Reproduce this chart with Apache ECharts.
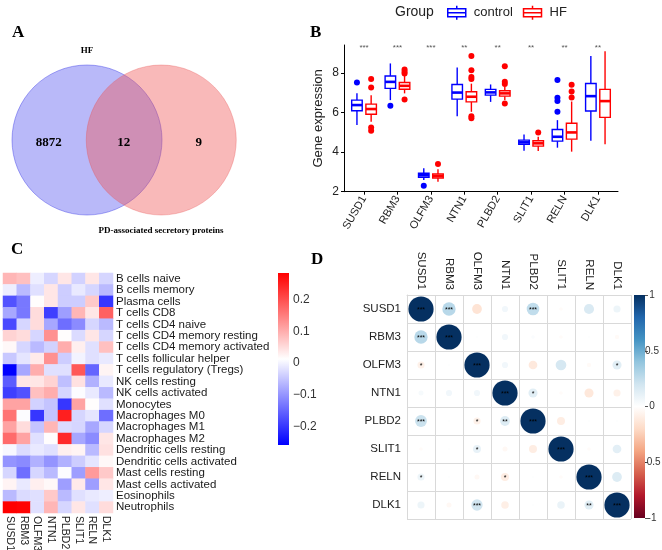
<!DOCTYPE html>
<html>
<head>
<meta charset="utf-8">
<script src="https://cdn.jsdelivr.net/npm/echarts@6/dist/echarts.min.js"></script>
<style>html,body{margin:0;padding:0;background:#fff}#main{width:662px;height:550px}</style>
</head>
<body>
<div id="main"></div>
<script>
// ---- panel A: venn ----
var vennNames = ['HF', 'PD-associated secretory proteins'];
var vennCounts = [8872, 12, 9];          // HF only, both, PD only

// ---- panel B: boxplots ----
var genes = ['SUSD1', 'RBM3', 'OLFM3', 'NTN1', 'PLBD2', 'SLIT1', 'RELN', 'DLK1'];
var sigLabels = ['***', '***', '***', '**', '**', '**', '**', '**'];
// [lower whisker, q1, median, q3, upper whisker]
var controlBox = [
    [5.36, 6.08, 6.37, 6.62, 6.97],
    [6.62, 7.21, 7.54, 7.84, 8.47],
    [2.59, 2.73, 2.83, 2.93, 3.18],
    [5.81, 6.67, 7.00, 7.41, 8.27],
    [6.53, 6.87, 7.01, 7.16, 7.41],
    [4.07, 4.39, 4.49, 4.60, 4.89],
    [4.22, 4.55, 4.77, 5.14, 5.61],
    [4.57, 6.07, 6.82, 7.46, 8.84]
];
var hfBox = [
    [5.53, 5.91, 6.17, 6.42, 6.87],
    [6.96, 7.17, 7.34, 7.51, 7.88],
    [2.50, 2.69, 2.79, 2.89, 3.13],
    [6.03, 6.53, 6.79, 7.04, 7.45],
    [6.62, 6.82, 6.96, 7.09, 7.29],
    [4.05, 4.30, 4.44, 4.57, 4.77],
    [4.02, 4.65, 4.99, 5.45, 6.55],
    [4.39, 5.75, 6.57, 7.16, 9.09]
];
var controlOut = [[0, 7.51], [1, 6.33], [2, 2.30], [6, 7.63], [6, 6.74], [6, 6.57], [6, 6.03]];
var hfOut = [[0, 7.68], [0, 7.26], [0, 5.24], [0, 5.07], [1, 8.17], [1, 8.05], [1, 7.96], [1, 6.65],
    [2, 3.40], [3, 8.85], [3, 8.13], [3, 7.78], [3, 7.68], [3, 5.81], [3, 5.70],
    [4, 8.33], [4, 7.54], [4, 7.43], [4, 6.45], [5, 4.99], [6, 7.40], [6, 7.05], [6, 6.75]];
var expTicks = [2, 4, 6, 8];
var geneTicks = [0, 1, 2, 3, 4, 5, 6, 7];

// ---- panel C: immune cell correlation heatmap ----
var cellTypes = ['B cells naive', 'B cells memory', 'Plasma cells', 'T cells CD8', 'T cells CD4 naive',
    'T cells CD4 memory resting', 'T cells CD4 memory activated', 'T cells follicular helper',
    'T cells regulatory (Tregs)', 'NK cells resting', 'NK cells activated', 'Monocytes',
    'Macrophages M0', 'Macrophages M1', 'Macrophages M2', 'Dendritic cells resting',
    'Dendritic cells activated', 'Mast cells resting', 'Mast cells activated', 'Eosinophils', 'Neutrophils'];
var immuneCorr = [
    [0.09, 0.08, -0.005, -0.03, 0.04, -0.035, 0.04, -0.03],
    [-0.005, -0.06, -0.02, 0.04, -0.04, -0.01, -0.03, -0.06],
    [-0.17, -0.13, 0.015, 0.04, -0.04, -0.04, 0.07, -0.20],
    [-0.08, -0.13, 0.05, -0.19, -0.09, 0.09, 0.04, 0.18],
    [-0.18, -0.03, 0.05, -0.08, -0.14, -0.11, -0.03, -0.06],
    [0.06, 0.05, -0.03, 0.13, 0.015, -0.025, 0.04, -0.03],
    [0.02, -0.03, -0.06, -0.035, 0.10, 0.03, -0.02, 0.08],
    [-0.045, -0.015, 0.035, 0.13, -0.04, 0.0, -0.02, -0.01],
    [-0.257, -0.08, 0.10, -0.02, -0.02, 0.19, -0.15, 0.025],
    [-0.16, 0.04, 0.04, 0.06, -0.055, 0.045, -0.07, -0.01],
    [-0.19, -0.17, 0.08, 0.10, -0.03, 0.01, -0.01, -0.06],
    [0.11, 0.11, -0.035, -0.05, -0.20, 0.11, 0.015, -0.02],
    [0.16, 0.01, -0.20, -0.05, 0.25, -0.03, -0.015, -0.14],
    [0.11, 0.05, -0.05, 0.09, -0.025, -0.03, -0.08, -0.03],
    [0.17, 0.11, -0.02, 0.015, 0.24, -0.08, -0.11, 0.04],
    [0.005, -0.025, -0.01, -0.02, 0.03, 0.025, -0.06, 0.045],
    [-0.10, -0.11, -0.07, -0.10, -0.07, -0.04, -0.015, 0.02],
    [-0.03, -0.14, -0.03, -0.06, 0.01, -0.09, 0.12, 0.07],
    [0.025, -0.01, 0.03, 0.02, -0.09, 0.035, -0.09, 0.04],
    [-0.06, -0.025, -0.02, 0.07, -0.06, -0.02, -0.01, -0.005],
    [0.283, 0.28, -0.02, 0.09, -0.03, 0.04, -0.02, 0.05]
];
var immuneMin = -0.257, immuneMax = 0.283;
var immuneTicks = [-0.2, -0.1, 0, 0.1, 0.2];

// ---- panel D: gene correlation matrix ----
var geneCorr = [
    [1, 0.28, -0.15, 0.06, 0.25, -0.02, 0.16, 0.08],
    [0.28, 1, 0.01, 0.06, 0.02, -0.02, 0.01, -0.03],
    [-0.08, 0.01, 1, 0.06, -0.12, 0.18, -0.03, 0.13],
    [0.04, 0.06, 0.06, 1, 0.13, -0.02, -0.13, -0.08],
    [0.22, 0.01, -0.08, 0.15, 1, -0.10, 0.01, 0.01],
    [-0.02, 0.01, 0.10, -0.04, -0.10, 1, -0.02, 0.12],
    [0.08, 0.01, -0.04, -0.10, 0.01, -0.02, 1, 0.15],
    [0.08, -0.04, 0.20, -0.09, 0.01, 0.09, 0.13, 1]
];
var geneStars = [
    ['***', '***', '', '', '***', '', '', ''],
    ['***', '***', '', '', '', '', '', ''],
    ['*', '', '***', '', '', '', '', '*'],
    ['', '', '', '***', '*', '', '', ''],
    ['***', '', '*', '**', '***', '', '', ''],
    ['', '', '*', '', '', '***', '', ''],
    ['*', '', '', '*', '', '', '***', ''],
    ['', '', '***', '', '', '', '**', '***']
];
var rdbu = ['#67001F', '#B2182B', '#D6604D', '#F4A582', '#FDDBC7', '#FFFFFF',
    '#D1E5F0', '#92C5DE', '#4393C3', '#2166AC', '#053061'];

var myChart = echarts.init(document.getElementById('main'));

var heatData = [];
immuneCorr.forEach(function (row, r) {
    row.forEach(function (v, c) { heatData.push([c, r, v]); });
});
var corrData = [], corrStars = [];
geneCorr.forEach(function (row, r) {
    row.forEach(function (v, c) { corrData.push([c, r, v]); corrStars.push(geneStars[r][c]); });
});

function boxItem(shift, color) {
    return function (params, api) {
        var x = api.value(0) + shift;
        var half = api.size([0.1575, 0])[0];
        var cx = api.coord([x, 2])[0];
        var y = [1, 2, 3, 4, 5].map(function (d) { return api.coord([x, api.value(d)])[1]; });
        return {
            type: 'group', children: [
                {type: 'line', shape: {x1: cx, y1: y[4], x2: cx, y2: y[3]}, style: {stroke: color, lineWidth: 1.4}},
                {type: 'line', shape: {x1: cx, y1: y[1], x2: cx, y2: y[0]}, style: {stroke: color, lineWidth: 1.4}},
                {type: 'rect', shape: {x: cx - half, y: y[3], width: 2 * half, height: y[1] - y[3]},
                    style: {fill: '#fff', stroke: color, lineWidth: 1.4}},
                {type: 'line', shape: {x1: cx - half, y1: y[2], x2: cx + half, y2: y[2]}, style: {stroke: color, lineWidth: 2.6}}
            ]
        };
    };
}
function outItem(shift, color) {
    return function (params, api) {
        var p = api.coord([api.value(0) + shift, api.value(1)]);
        return {type: 'circle', shape: {cx: p[0], cy: p[1], r: 3}, style: {fill: color}};
    };
}
function barItem(stops) {
    return function (params, api) {
        var p0 = api.coord([0, api.value(2)]);
        var p1 = api.coord([1, api.value(1)]);
        return {
            type: 'rect', shape: {x: p0[0], y: p0[1], width: p1[0] - p0[0], height: p1[1] - p0[1]},
            style: {fill: new echarts.graphic.LinearGradient(0, 0, 0, 1, stops)}
        };
    };
}
var heatStops = [{offset: 0, color: '#ff0000'}, {offset: (immuneMax - 0.013) / (immuneMax - immuneMin), color: '#ffffff'}, {offset: 1, color: '#0000ff'}];
var corrStops = rdbu.slice().reverse().map(function (c, i) { return {offset: i / 10, color: c}; });

var boxIcon = 'path://M9,0L9,3M0,3L18,3L18,11L0,11ZM0,7L18,7M9,11L9,14';
var serif = '"Liberation Serif", "Times New Roman", serif';

option = {
    animation: false,
    textStyle: {fontFamily: '"Liberation Sans", Arial, sans-serif'},
    graphic: [
        {type: 'text', x: 12, y: 24, style: {text: 'A', font: 'bold 17px ' + serif, fill: '#000'}},
        {type: 'text', x: 310, y: 24, style: {text: 'B', font: 'bold 17px ' + serif, fill: '#000'}},
        {type: 'text', x: 11, y: 241, style: {text: 'C', font: 'bold 17px ' + serif, fill: '#000'}},
        {type: 'text', x: 311, y: 251, style: {text: 'D', font: 'bold 17px ' + serif, fill: '#000'}},
        {type: 'text', x: 87, y: 51, style: {text: vennNames[0], align: 'center', verticalAlign: 'middle', font: 'bold 9px ' + serif, fill: '#000'}},
        {type: 'text', x: 161, y: 231, style: {text: vennNames[1], align: 'center', verticalAlign: 'middle', font: 'bold 9px ' + serif, fill: '#000'}},
        {type: 'text', x: 395, y: 12, style: {text: 'Group', verticalAlign: 'middle', font: '14px "Liberation Sans", Arial', fill: '#222'}}
    ],
    legend: {
        left: 447, top: 5, padding: 0, itemWidth: 18, itemHeight: 14, itemGap: 10, selectedMode: false,
        textStyle: {fontSize: 13, color: '#222', padding: [0, 0, 0, 3]},
        data: [
            {name: 'control', icon: boxIcon, itemStyle: {color: '#fff', borderColor: '#0000ff', borderWidth: 1.5}},
            {name: 'HF', icon: boxIcon, itemStyle: {color: '#fff', borderColor: '#ff0000', borderWidth: 1.5}}
        ]
    },
    visualMap: [
        {type: 'continuous', show: false, seriesIndex: 7, dimension: 2, min: immuneMin, max: immuneMax,
            inRange: {color: ['#0000ff', '#ffffff', '#ff0000']}},
        {type: 'continuous', show: false, seriesIndex: 9, dimension: 2, min: -1, max: 1,
            inRange: {color: rdbu}}
    ],
    grid: [
        {left: 12, top: 65, width: 225, height: 150, outerBoundsMode: 'none'},
        {left: 344, top: 45, width: 274, height: 146.7, outerBoundsMode: 'none'},
        {left: 3, top: 273, width: 110, height: 240, outerBoundsMode: 'none'},
        {left: 278, top: 273, width: 11, height: 172, outerBoundsMode: 'none'},
        {left: 407, top: 295, width: 224, height: 224, outerBoundsMode: 'none'},
        {left: 634, top: 295, width: 11, height: 223, outerBoundsMode: 'none'}
    ],
    xAxis: [
        {gridIndex: 0, type: 'value', min: 0, max: 3, show: false},
        {gridIndex: 1, type: 'value', min: -0.6, max: 7.6, splitLine: {show: false},
            axisLine: {onZero: false, lineStyle: {color: '#000', width: 1}},
            axisTick: {show: true, length: 3, lineStyle: {color: '#000'}, customValues: geneTicks},
            axisLabel: {customValues: geneTicks, rotate: 60, fontSize: 11, color: '#222', margin: 5,
                formatter: function (v) { return genes[Math.round(v)]; }}},
        {gridIndex: 2, type: 'category', data: genes, axisLine: {show: false}, axisTick: {show: false},
            axisLabel: {interval: 0, rotate: -90, fontSize: 10.5, color: '#222', margin: 3}},
        {gridIndex: 3, type: 'value', min: 0, max: 1, show: false},
        {gridIndex: 4, type: 'category', data: genes, position: 'top',
            axisLine: {show: true, lineStyle: {color: '#d9d9d9'}}, axisTick: {show: false},
            splitLine: {show: true, lineStyle: {color: '#d9d9d9'}},
            axisLabel: {interval: 0, rotate: 90, fontSize: 11.5, color: '#222', margin: 5}},
        {gridIndex: 5, type: 'value', min: 0, max: 1, show: false}
    ],
    yAxis: [
        {gridIndex: 0, type: 'value', min: 0, max: 2, show: false},
        {gridIndex: 1, type: 'value', min: 2, max: 9.4, interval: 2, splitLine: {show: false},
            name: 'Gene expression', nameLocation: 'middle', nameGap: 19,
            nameTextStyle: {fontSize: 13, color: '#222'},
            axisLine: {show: true, onZero: false, lineStyle: {color: '#000', width: 1}},
            axisTick: {show: true, length: 3, lineStyle: {color: '#000'}, customValues: expTicks},
            axisLabel: {showMaxLabel: false, fontSize: 12, color: '#222', margin: 5,
                formatter: function (v) { return v % 2 === 0 ? String(v) : ''; }}},
        {gridIndex: 2, type: 'category', data: cellTypes, inverse: true, position: 'right',
            axisLine: {show: false}, axisTick: {show: false},
            axisLabel: {interval: 0, fontSize: 11.5, color: '#1a1a1a', margin: 3}},
        {gridIndex: 3, type: 'value', min: immuneMin, max: immuneMax, position: 'right', splitLine: {show: false},
            axisLine: {show: false, onZero: false}, axisTick: {show: false},
            axisLabel: {customValues: immuneTicks, fontSize: 12, color: '#333', margin: 4,
                formatter: function (v) { return v < 0 ? '\u2212' + Math.abs(v) : String(v); }}},
        {gridIndex: 4, type: 'category', data: genes, inverse: true,
            axisLine: {show: true, lineStyle: {color: '#d9d9d9'}}, axisTick: {show: false},
            splitLine: {show: true, lineStyle: {color: '#d9d9d9'}},
            axisLabel: {interval: 0, fontSize: 11.5, color: '#222', margin: 6}},
        {gridIndex: 5, type: 'value', min: -1, max: 1, interval: 0.5, position: 'right', splitLine: {show: false},
            axisLine: {show: false, onZero: false},
            axisTick: {show: true, length: 3, lineStyle: {color: '#555'}},
            axisLabel: {fontSize: 10, color: '#333', margin: 7, align: 'center'}}
    ],
    series: [
        {   // 0 venn circles
            type: 'custom', xAxisIndex: 0, yAxisIndex: 0,
            data: [[1, 1, 1], [1.99, 1, 1]],
            renderItem: function (params, api) {
                var p = api.coord([api.value(0), api.value(1)]);
                var r = api.size([api.value(2), 0])[0];
                var blue = params.dataIndex === 0;
                return {type: 'circle', shape: {cx: p[0], cy: p[1], r: r},
                    style: {fill: blue ? 'rgba(80,80,240,0.4)' : 'rgba(240,80,80,0.4)',
                        stroke: blue ? 'rgba(60,60,230,0.55)' : 'rgba(230,80,80,0.4)', lineWidth: 0.8}};
            }
        },
        {   // 1 venn counts
            type: 'custom', xAxisIndex: 0, yAxisIndex: 0,
            data: [[0.49, 0.97, vennCounts[0]], [1.49, 0.97, vennCounts[1]], [2.49, 0.97, vennCounts[2]]],
            renderItem: function (params, api) {
                var p = api.coord([api.value(0), api.value(1)]);
                return {type: 'text', style: {text: String(api.value(2)), x: p[0], y: p[1], align: 'center',
                    verticalAlign: 'middle', font: 'bold 13px ' + serif, fill: '#000'}};
            }
        },
        {name: 'control', type: 'custom', xAxisIndex: 1, yAxisIndex: 1, itemStyle: {color: '#0000ff'},
            data: controlBox.map(function (b, i) { return [i].concat(b); }), renderItem: boxItem(-0.2125, '#0000ff')},
        {name: 'HF', type: 'custom', xAxisIndex: 1, yAxisIndex: 1, itemStyle: {color: '#ff0000'},
            data: hfBox.map(function (b, i) { return [i].concat(b); }), renderItem: boxItem(0.2125, '#ff0000')},
        {name: 'control', type: 'custom', xAxisIndex: 1, yAxisIndex: 1, data: controlOut, renderItem: outItem(-0.2125, '#0000ff')},
        {name: 'HF', type: 'custom', xAxisIndex: 1, yAxisIndex: 1, data: hfOut, renderItem: outItem(0.2125, '#ff0000')},
        {   // 6 significance marks
            type: 'custom', xAxisIndex: 1, yAxisIndex: 1,
            data: genes.map(function (g, i) { return [i, 9.28]; }),
            renderItem: function (params, api) {
                var p = api.coord([api.value(0), api.value(1)]);
                return {type: 'text', style: {text: sigLabels[params.dataIndex], x: p[0], y: p[1], align: 'center',
                    verticalAlign: 'middle', font: '8px "Liberation Sans", Arial', fill: '#555'}};
            }
        },
        {type: 'heatmap', xAxisIndex: 2, yAxisIndex: 2, data: heatData, itemStyle: {borderWidth: 0}},
        {type: 'custom', xAxisIndex: 3, yAxisIndex: 3, data: [[0, immuneMin, immuneMax]], renderItem: barItem(heatStops)},
        {   // 9 correlation circles
            type: 'custom', xAxisIndex: 4, yAxisIndex: 4, data: corrData,
            renderItem: function (params, api) {
                var p = api.coord([api.value(0), api.value(1)]);
                var cell = api.size([1, 1]);
                var rad = 0.45 * Math.sqrt(Math.abs(api.value(2))) * cell[0];
                return {type: 'group', children: [
                    {type: 'circle', shape: {cx: p[0], cy: p[1], r: rad}, style: {fill: api.visual('color')}},
                    {type: 'text', style: {text: corrStars[params.dataIndex], x: p[0], y: p[1] + 1, align: 'center',
                        verticalAlign: 'middle', font: '7px "Liberation Sans", Arial', fill: '#000'}}
                ]};
            }
        },
        {type: 'custom', xAxisIndex: 5, yAxisIndex: 5, data: [[0, -1, 1]], renderItem: barItem(corrStops)}
    ]
};
myChart.setOption(option);
</script>
</body>
</html>
